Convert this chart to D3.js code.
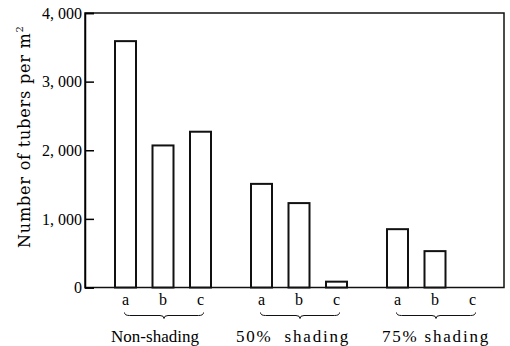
<!DOCTYPE html>
<html>
<head>
<meta charset="utf-8">
<script src="https://cdn.jsdelivr.net/npm/d3@7"></script>
<style>
  body { margin: 0; background: #fff; }
  svg text { fill: #000; }
</style>
</head>
<body>
<svg id="chart" width="510" height="346"></svg>
<script>
// data
const groups = ["Non-shading", "50%  shading", "75% shading"];
const treatments = ["a", "b", "c"];
const nonShading = [3590, 2070, 2270];
const shading50 = [1510, 1230, 85];
const shading75 = [850, 530, 0];
const yTicks = [0, 1000, 2000, 3000, 4000];

const series = [nonShading, shading50, shading75];

// flatten into rows for drawing
let rows = [];
groups.forEach((g, i) => {
	treatments.forEach((t, j) => {
		rows.push({ group: g, treat: t, value: series[i][j] });
	});
});

let margin = { top: 13, left: 85 },
	width = 419,
	height = 274.5;

const serif = "'Liberation Serif', 'Times New Roman', serif";

let svg = d3.select("#chart");
let chart = svg.append("g")
	.attr("transform", "translate(" + margin.left + "," + margin.top + ")");

// scales
let xGroup = d3.scalePoint().domain(groups).range([78, 350]);
let xInner = d3.scalePoint().domain(treatments).range([-37.5, 37.5]);
let yScale = d3.scaleLinear().domain([0, 4000]).range([height, 0]);
let barW = 21;

// frame
chart.append("rect")
	.attr("x", 0).attr("y", 0)
	.attr("width", width).attr("height", height)
	.attr("fill", "none")
	.attr("stroke", "#111")
	.attr("stroke-width", 1.5);

// y axis (ticks point inward)
let yAxis = chart.append("g")
	.call(d3.axisRight(yScale)
		.tickValues(yTicks)
		.tickSize(9)
		.tickFormat(d => d3.format(",")(d).replace(",", ", ")));
yAxis.select(".domain").attr("stroke-width", 1.5);
yAxis.selectAll(".tick line").attr("stroke-width", 1.5);
yAxis.selectAll(".tick text")
	.attr("x", -3)
	.attr("text-anchor", "end")
	.style("font-size", "16px")
	.style("font-family", serif);

// bars
chart.selectAll("rect.bar")
	.data(rows.filter(d => d.value > 0))
	.join("rect")
	.attr("class", "bar")
	.attr("x", d => xGroup(d.group) + xInner(d.treat) - barW / 2)
	.attr("y", d => yScale(d.value))
	.attr("width", barW)
	.attr("height", d => height - yScale(d.value))
	.attr("fill", "#fff")
	.attr("stroke", "#111")
	.attr("stroke-width", 2);

// treatment letters
chart.selectAll("text.treat")
	.data(rows)
	.join("text")
	.attr("class", "treat")
	.attr("x", d => xGroup(d.group) + xInner(d.treat))
	.attr("y", height + 17)
	.attr("text-anchor", "middle")
	.style("font-size", "16px")
	.style("font-family", serif)
	.text(d => d.treat);

// braces under each group
function brace(x0, x1, y) {
	let m = (x0 + x1) / 2;
	return "M" + x0 + "," + (y - 3) +
		" Q" + x0 + "," + y + " " + (x0 + 5) + "," + y +
		" L" + (m - 4) + "," + y +
		" Q" + m + "," + y + " " + m + "," + (y + 3) +
		" Q" + m + "," + y + " " + (m + 4) + "," + y +
		" L" + (x1 - 5) + "," + y +
		" Q" + x1 + "," + y + " " + x1 + "," + (y - 3);
}
chart.selectAll("path.brace")
	.data(groups)
	.join("path")
	.attr("class", "brace")
	.attr("d", g => brace(xGroup(g) + xInner("a") - 1, xGroup(g) + xInner("c") + 3, height + 28))
	.attr("fill", "none")
	.attr("stroke", "#111")
	.attr("stroke-width", 1);

// group labels
let labelShift = [-8, -6, 1];
let labelSpacing = [0, 1.8, 1.8];
chart.selectAll("text.group")
	.data(groups)
	.join("text")
	.attr("class", "group")
	.attr("x", (g, i) => xGroup(g) + labelShift[i])
	.attr("y", height + 54)
	.attr("text-anchor", "middle")
	.style("font-size", "17px")
	.style("font-family", serif)
	.style("letter-spacing", (g, i) => labelSpacing[i] + "px")
	.style("white-space", "pre")
	.text(g => g);

// y title
svg.append("text")
	.attr("transform", "translate(30,137) rotate(-90)")
	.attr("text-anchor", "middle")
	.attr("textLength", 222)
	.attr("lengthAdjust", "spacing")
	.style("font-size", "16px")
	.style("font-family", "'DejaVu Serif', serif")
	.html("Number of tubers per m<tspan dy='-7' font-size='10'>2</tspan>");
</script>
</body>
</html>
